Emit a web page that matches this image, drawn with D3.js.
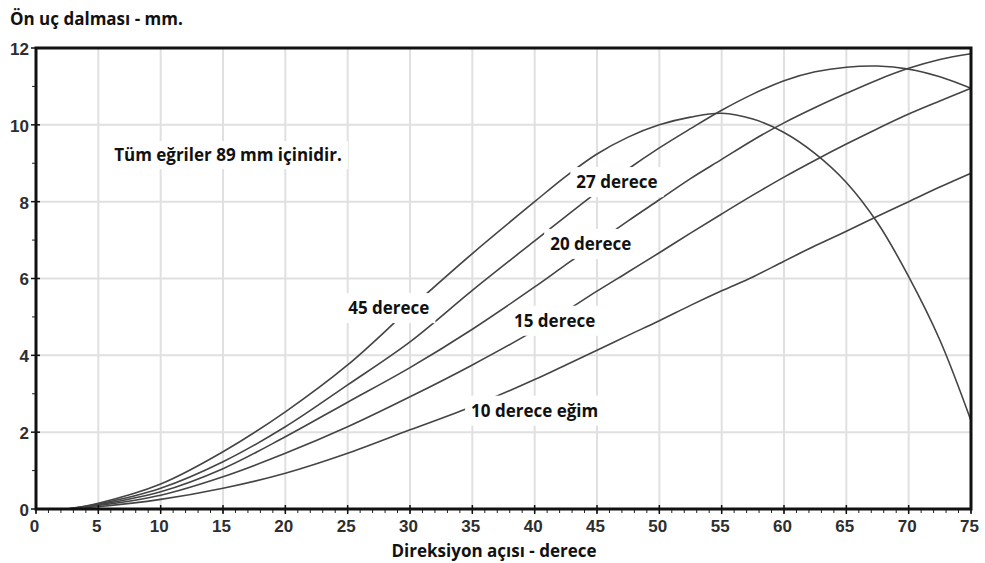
<!DOCTYPE html>
<meta charset="utf-8">
<style>
    body {
        margin: 0;
        background: #fff;
    }
    .tick-label {
        font: bold 17px "Liberation Sans", Arial, sans-serif;
        fill: #2e2e2e;
    }
    .title, .note {
        font-family: "Open Sans", Lato, sans-serif;
        font-weight: bold;
        fill: #111;
    }
    .grid line {
        stroke: #e0e0e0;
        stroke-width: 2;
    }
    path.curve {
        fill: none;
        stroke: #444;
        stroke-width: 1.6;
    }
</style>
<body>
<script src="https://cdn.jsdelivr.net/npm/d3@7"></script>
<script>
    // steering angle (deg) and toe-out dip (mm) for each caster angle
    var angles = [2.5, 5, 10, 15, 20, 25, 30, 35, 40, 42.5, 45, 47.5, 50, 52.5, 55, 57.5, 60, 62.5, 65, 67.5, 70, 72.5, 75];
    var dip45 = [0, 0.15, 0.65, 1.49, 2.53, 3.75, 5.22, 6.65, 8.0, 8.66, 9.24, 9.68, 10.0, 10.2, 10.3, 10.15, 9.8, 9.25, 8.5, 7.45, 6.05, 4.4, 2.3];
    var dip27 = [0, 0.13, 0.54, 1.23, 2.14, 3.23, 4.35, 5.69, 6.98, 7.62, 8.25, 8.85, 9.4, 9.9, 10.38, 10.8, 11.15, 11.38, 11.5, 11.53, 11.45, 11.25, 10.95];
    var dip20 = [0, 0.11, 0.45, 1.05, 1.88, 2.78, 3.68, 4.68, 5.78, 6.36, 6.93, 7.5, 8.05, 8.6, 9.1, 9.6, 10.05, 10.45, 10.82, 11.17, 11.47, 11.7, 11.85];
    var dip15 = [0, 0.09, 0.36, 0.84, 1.45, 2.14, 2.92, 3.75, 4.65, 5.15, 5.67, 6.17, 6.67, 7.18, 7.68, 8.17, 8.64, 9.08, 9.5, 9.9, 10.28, 10.62, 10.95];
    var dip10 = [0, 0.06, 0.25, 0.54, 0.93, 1.45, 2.06, 2.67, 3.37, 3.75, 4.13, 4.52, 4.9, 5.3, 5.68, 6.04, 6.45, 6.85, 7.23, 7.62, 8.0, 8.38, 8.74];

    var xTicks = d3.range(0, 76, 5);
    var yTicks = d3.range(0, 13, 2);

    // curve labels, anchored in data units
    var labelTexts = ["45 derece", "27 derece", "20 derece", "15 derece", "10 derece eğim"];
    var labelX = [28.3, 46.6, 44.5, 41.6, 40.0];
    var labelY = [5.23, 8.51, 6.9, 4.9, 2.56];

    var noteText = "Tüm eğriler 89 mm içinidir.";
    var xTitle = "Direksiyon açısı - derece";
    var yTitle = "Ön uç dalması - mm.";

    var W = 985, H = 563;
    var margin = {top: 48, right: 14, bottom: 54, left: 36},
        width = W - margin.left - margin.right,
        height = H - margin.top - margin.bottom;

    var x = d3.scaleLinear().domain([0, 75]).range([0, width]);
    var y = d3.scaleLinear().domain([0, 12]).range([height, 0]);

    var svg = d3.select("body").append("svg")
        .attr("width", W)
        .attr("height", H);

    var g = svg.append("g")
        .attr("transform", "translate(" + margin.left + "," + margin.top + ")");

    // grid
    var grid = g.append("g").attr("class", "grid");
    grid.selectAll("line.v").data(xTicks.slice(1, -1)).enter().append("line")
        .attr("x1", x).attr("x2", x)
        .attr("y1", 0).attr("y2", height);
    grid.selectAll("line.h").data(yTicks.slice(1, -1)).enter().append("line")
        .attr("x1", 0).attr("x2", width)
        .attr("y1", y).attr("y2", y);

    // curves
    var series = [dip45, dip27, dip20, dip15, dip10];
    var line = d3.line()
        .x(function(d, i) { return x(angles[i]); })
        .y(function(d) { return y(d); })
        .curve(d3.curveCatmullRom.alpha(0.5));
    g.selectAll("path.curve").data(series).enter().append("path")
        .attr("class", "curve")
        .attr("d", line);

    // labels with white boxes that cut the curves and grid
    function boxedLabel(text, cx, cy, size, padX, boxH) {
        var lg = g.append("g");
        var rect = lg.append("rect").attr("fill", "#fff");
        var t = lg.append("text")
            .attr("class", "note")
            .attr("x", cx)
            .attr("y", cy)
            .attr("dy", "0.35em")
            .style("font-size", size + "px")
            .attr("text-anchor", "middle")
            .text(text);
        var w = t.node().getComputedTextLength();
        rect.attr("x", cx - w / 2 - padX)
            .attr("y", cy - boxH / 2)
            .attr("width", w + 2 * padX)
            .attr("height", boxH);
    }
    labelTexts.forEach(function(s, i) {
        boxedLabel(s, x(labelX[i]), y(labelY[i]), 17, 6, 30);
    });
    boxedLabel(noteText, x(15.4), y(9.21), 17, 6, 28);

    // axes
    var xAxis = g.append("g").attr("transform", "translate(0," + height + ")");
    xAxis.selectAll("line.minor").data(d3.range(0, 76, 1)).enter().append("line")
        .attr("x1", x).attr("x2", x)
        .attr("y1", 0).attr("y2", 4)
        .attr("stroke", "#222").attr("stroke-width", 1);
    xAxis.selectAll("line.major").data(xTicks).enter().append("line")
        .attr("x1", x).attr("x2", x)
        .attr("y1", -4).attr("y2", 5)
        .attr("stroke", "#111").attr("stroke-width", 1.5);
    xAxis.selectAll("text").data(xTicks).enter().append("text")
        .attr("class", "tick-label")
        .attr("x", function(d) { return x(d) - 1.5; })
        .attr("y", 11)
        .attr("dy", "0.71em")
        .attr("text-anchor", "middle")
        .text(function(d) { return d; });

    var yAxis = g.append("g");
    yAxis.selectAll("line.minor").data(d3.range(1, 12, 2)).enter().append("line")
        .attr("x1", -4).attr("x2", 0)
        .attr("y1", y).attr("y2", y)
        .attr("stroke", "#222").attr("stroke-width", 1);
    yAxis.selectAll("line.major").data(yTicks).enter().append("line")
        .attr("x1", -5).attr("x2", 4)
        .attr("y1", y).attr("y2", y)
        .attr("stroke", "#111").attr("stroke-width", 1.5);
    yAxis.selectAll("text").data(yTicks).enter().append("text")
        .attr("class", "tick-label")
        .attr("x", -7)
        .attr("y", function(d) { return y(d) + 1; })
        .attr("dy", "0.35em")
        .attr("text-anchor", "end")
        .text(function(d) { return d; });

    // frame
    g.append("rect")
        .attr("x", 0).attr("y", 0)
        .attr("width", width).attr("height", height)
        .attr("fill", "none")
        .attr("stroke", "#111")
        .attr("stroke-width", 3);

    // titles
    svg.append("text")
        .attr("class", "title")
        .attr("x", 10)
        .attr("y", 19)
        .attr("dy", "0.35em")
        .style("font-size", "17px")
        .text(yTitle);
    svg.append("text")
        .attr("class", "title")
        .attr("x", 494)
        .attr("y", 551)
        .attr("dy", "0.35em")
        .attr("text-anchor", "middle")
        .style("font-size", "17px")
        .text(xTitle);
</script>
